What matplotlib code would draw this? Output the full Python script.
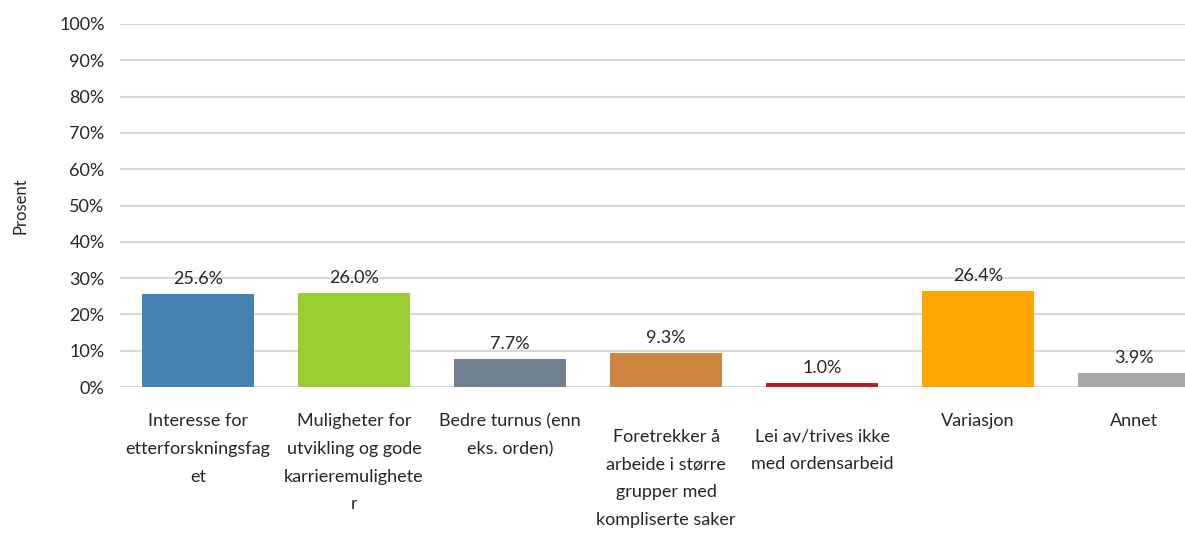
import numpy as np
import matplotlib.pyplot as plt

# Data
categories = [
    "Interesse for\netterforskningsfag\net",
    "Muligheter for\nutvikling og gode\nkarrieremulighete\nr",
    "Bedre turnus (enn\neks. orden)",
    "Foretrekker å\narbeide i større\ngrupper med\nkompliserte saker",
    "Lei av/trives ikke\nmed ordensarbeid",
    "Variasjon",
    "Annet",
]
values = [25.6, 26.0, 7.7, 9.3, 1.0, 26.4, 3.9]
colors = ["#4682B4", "#9ACD32", "#708090", "#CD853F", "#B22222", "#FFA500", "#A9A9A9"]

plt.rcParams['font.family'] = ['Lato', 'DejaVu Sans']

fig = plt.figure(figsize=(11.85, 5.34), dpi=100, facecolor='w')
# axes runs past the right edge like in the original (chart was cropped)
ax = fig.add_axes([120/1185, 147/534, 1092/1185, 363/534])

x = np.arange(len(categories))
bars = ax.bar(x, values, width=0.72, color=colors, zorder=3)

for xi, v in zip(x, values):
    ax.annotate(f"{v:.1f}%", (xi, v), xytext=(0, 5), textcoords='offset points',
                ha='center', va='bottom', fontsize=13, color='#262626')

ax.set_xlim(-0.5, len(categories) - 0.5)
ax.set_ylim(0, 100)
ax.set_yticks(np.arange(0, 101, 10))
ax.set_yticklabels([f"{t}%" for t in range(0, 101, 10)], fontsize=13, color='#262626')
ax.set_xticks(x)
ax.set_xticklabels(categories, fontsize=13, color='#262626', linespacing=1.9)
ax.tick_params(axis='both', length=0)
ax.tick_params(axis='x', pad=19)
ax.tick_params(axis='y', pad=11)
for i in (3, 4):
    ax.xaxis.get_major_ticks()[i].set_pad(30)

ax.grid(axis='y', color='#D9D9D9', linewidth=1.5, zorder=0)
for s in ax.spines.values():
    s.set_visible(False)

ax.set_ylabel("Prosent", fontsize=12, color='#262626', labelpad=22)

fig.savefig("out.png", dpi=100)
